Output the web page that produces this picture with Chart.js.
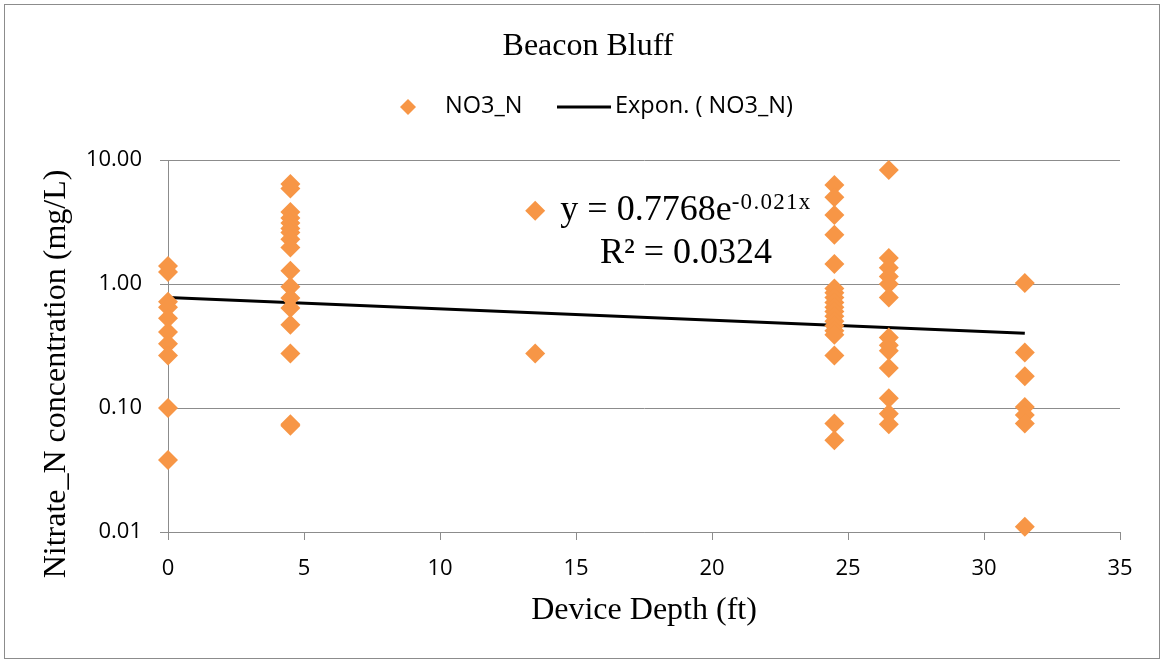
<!DOCTYPE html>
<html>
<head>
<meta charset="utf-8">
<title>Beacon Bluff</title>
<script src="https://cdn.jsdelivr.net/npm/chart.js@4.4.1/dist/chart.umd.min.js"></script>
<style>
  html, body { margin: 0; padding: 0; background: #fff; }
  #wrap { width: 1163px; height: 660px; position: relative; }
</style>
</head>
<body>
<div id="wrap"><canvas id="chart" width="1163" height="660"></canvas></div>
<script>
// sampling depths (ft) and NO3_N readings (mg/L) at each depth
const depths = [0, 4.5, 13.5, 24.5, 26.5, 31.5];
const no3At0 = [1.4, 1.25, 0.72, 0.65, 0.53, 0.41, 0.33, 0.265, 0.1, 0.038];
const no3At4_5 = [6.4, 5.9, 3.8, 3.4, 3.1, 2.8, 2.6, 2.3, 1.97, 1.28, 0.95, 0.77, 0.64, 0.47, 0.275, 0.074, 0.072];
const no3At13_5 = [3.9, 0.275];
const no3At24_5 = [6.3, 5.0, 3.6, 2.5, 1.45, 0.92, 0.85, 0.78, 0.71, 0.65, 0.6, 0.55, 0.5, 0.46, 0.42, 0.39, 0.265, 0.075, 0.055];
const no3At26_5 = [8.3, 1.62, 1.35, 1.15, 1.0, 0.78, 0.37, 0.32, 0.29, 0.21, 0.12, 0.09, 0.074];
const no3At31_5 = [1.02, 0.28, 0.18, 0.102, 0.088, 0.075, 0.011];
const readings = [no3At0, no3At4_5, no3At13_5, no3At24_5, no3At26_5, no3At31_5];

// exponential trendline y = a * e^(b x)
const trendA = 0.7768;
const trendB = -0.021;
const trendRange = [0, 31.5];
const rSquared = '0.0324';

const yTicks = [0.01, 0.1, 1, 10];

const points = [];
depths.forEach((d, i) => readings[i].forEach(v => points.push({ x: d, y: v })));
const trendPoints = trendRange.map(x => ({ x: x, y: trendA * Math.exp(trendB * x) }));

const ORANGE = '#F79646';
const GRID = '#8c8c8c';
const SERIF = '"Liberation Serif", "Times New Roman", serif';
const SANS = '"Open Sans", "Noto Sans", sans-serif';

// title, legend, equation box, y title and outer frame
const extras = {
  id: 'extras',
  afterDraw(chart) {
    const ctx = chart.ctx;
    ctx.save();

    ctx.strokeStyle = GRID;
    ctx.lineWidth = 1;
    ctx.strokeRect(4.5, 4.5, 1155, 654);

    ctx.fillStyle = '#000';
    ctx.textBaseline = 'alphabetic';
    ctx.textAlign = 'center';
    ctx.font = '32px ' + SERIF;
    ctx.fillText('Beacon Bluff', 588, 55);

    // legend
    ctx.fillStyle = ORANGE;
    ctx.beginPath();
    ctx.moveTo(408, 99); ctx.lineTo(416, 107); ctx.lineTo(408, 115); ctx.lineTo(400, 107);
    ctx.closePath();
    ctx.fill();
    ctx.font = '23.5px ' + SANS;
    ctx.fillStyle = '#000';
    ctx.textAlign = 'left';
    ctx.fillText('NO3_N', 445, 113);
    ctx.strokeStyle = '#000';
    ctx.lineWidth = 3;
    ctx.beginPath();
    ctx.moveTo(557, 107); ctx.lineTo(611, 107);
    ctx.stroke();
    ctx.fillText('Expon. ( NO3_N)', 615, 113);

    // trendline equation
    const cx = 686;
    const main = 'y = ' + trendA + 'e';
    const sup = String(trendB) + 'x';
    ctx.font = '36px ' + SERIF;
    const wMain = ctx.measureText(main).width;
    ctx.font = '23px ' + SERIF;
    ctx.letterSpacing = '1.3px';
    const wSup = ctx.measureText(sup).width;
    const x0 = cx - (wMain + wSup) / 2;
    ctx.fillText(sup, x0 + wMain, 209);
    ctx.letterSpacing = '0px';
    ctx.font = '36px ' + SERIF;
    ctx.fillText(main, x0, 220);
    ctx.textAlign = 'center';
    ctx.fillText('R\u00b2 = ' + rSquared, cx, 263);

    // y axis title
    ctx.translate(57, 374);
    ctx.rotate(-Math.PI / 2);
    ctx.font = '32px ' + SERIF;
    ctx.textBaseline = 'middle';
    ctx.fillText('Nitrate_N concentration (mg/L)', 0, 0);

    ctx.restore();
  }
};

new Chart(document.getElementById('chart'), {
  type: 'scatter',
  data: {
    datasets: [
      {
        label: 'NO3_N',
        data: points,
        clip: false,
        pointStyle: 'rectRot',
        pointRadius: 10,
        pointHoverRadius: 10,
        pointBorderWidth: 0,
        backgroundColor: ORANGE,
        borderColor: ORANGE
      },
      {
        label: 'Expon. ( NO3_N)',
        type: 'line',
        data: trendPoints,
        clip: false,
        showLine: true,
        borderColor: '#000',
        borderWidth: 3,
        pointRadius: 0,
        fill: false
      }
    ]
  },
  options: {
    responsive: false,
    animation: false,
    devicePixelRatio: 1,
    layout: { padding: { left: 0, right: 43, top: 160, bottom: 0 } },
    plugins: {
      legend: { display: false },
      tooltip: { enabled: false },
      title: { display: false }
    },
    scales: {
      x: {
        type: 'linear',
        min: 0,
        max: 35,
        ticks: { stepSize: 5, color: '#000', font: { family: SANS, size: 22 }, padding: 16 },
        grid: { drawOnChartArea: false, drawTicks: true, tickLength: 8, color: GRID },
        border: { display: true, color: GRID },
        title: {
          display: true,
          text: 'Device Depth (ft)',
          color: '#000',
          font: { family: SERIF, size: 32 },
          padding: { top: 0, bottom: 30 }
        },
        afterFit(scale) { scale.height = 128; }
      },
      y: {
        type: 'logarithmic',
        min: 0.01,
        max: 10,
        afterBuildTicks(scale) { scale.ticks = yTicks.map(v => ({ value: v })); },
        ticks: {
          color: '#000',
          font: { family: SANS, size: 22 },
          padding: 18,
          callback: v => Number(v).toFixed(2)
        },
        grid: { drawOnChartArea: true, drawTicks: true, tickLength: 8, color: GRID },
        border: { display: true, color: GRID },
        afterFit(scale) { scale.width = 168; }
      }
    }
  },
  plugins: [extras]
});
</script>
</body>
</html>
